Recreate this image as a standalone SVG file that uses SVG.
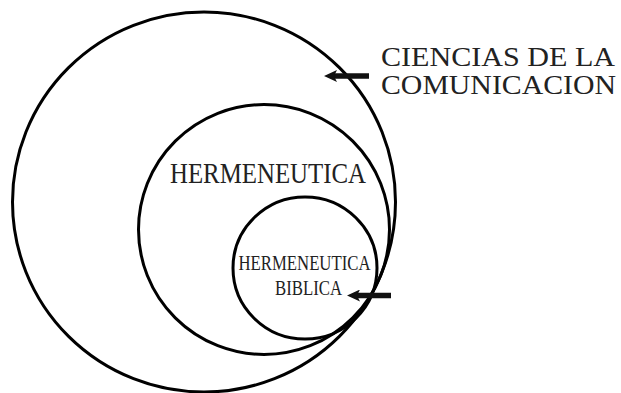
<svg xmlns="http://www.w3.org/2000/svg" width="621" height="393" viewBox="0 0 621 393">
  <style>
    .ring { fill: none; stroke: #000; stroke-width: 3; }
    .lbl { font-family: "Liberation Serif", "Times New Roman", serif; fill: #222; }
    .arrow { stroke: #111; stroke-width: 5.5; fill: none; marker-end: url(#head); }
  </style>
  <defs>
    <marker id="head" viewBox="0 0 13 12" refX="3" refY="6" markerWidth="13" markerHeight="12" markerUnits="userSpaceOnUse" orient="auto">
      <path d="M0,0 L13,6 L0,12 L3,6 Z" fill="#111"/>
    </marker>
  </defs>
  <rect width="621" height="393" fill="#fff"/>
  <g id="ciencias">
    <ellipse class="ring" cx="204" cy="202" rx="191.5" ry="190"/>
    <text class="lbl" x="381" y="66" font-size="28" textLength="234" lengthAdjust="spacingAndGlyphs">CIENCIAS DE LA</text>
    <text class="lbl" x="381" y="94" font-size="28" textLength="235" lengthAdjust="spacingAndGlyphs">COMUNICACION</text>
  </g>
  <g id="hermeneutica">
    <ellipse class="ring" cx="264" cy="229.5" rx="125.5" ry="125"/>
    <text class="lbl" x="170" y="183" font-size="30" textLength="196" lengthAdjust="spacingAndGlyphs">HERMENEUTICA</text>
  </g>
  <g id="hermeneutica-biblica">
    <ellipse class="ring" cx="305" cy="268" rx="72" ry="71"/>
    <text class="lbl" x="238.5" y="269.5" font-size="21.5" textLength="132" lengthAdjust="spacingAndGlyphs">HERMENEUTICA</text>
    <text class="lbl" x="275" y="295" font-size="21.5" textLength="67" lengthAdjust="spacingAndGlyphs">BIBLICA</text>
  </g>
  <g id="connectors">
    <line class="arrow" x1="369" y1="76" x2="334" y2="76"/>
    <line class="arrow" x1="391" y1="295.5" x2="357" y2="295.5"/>
  </g>
</svg>
